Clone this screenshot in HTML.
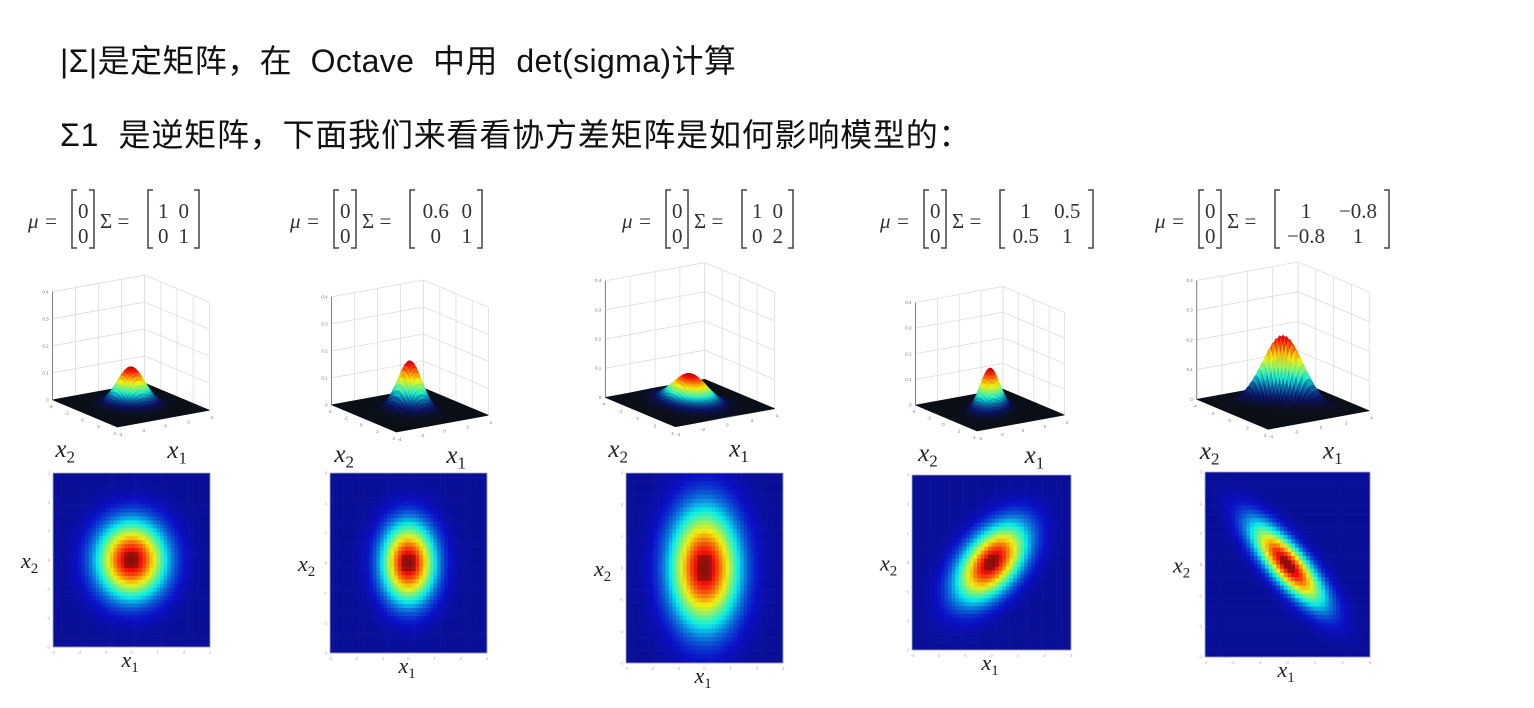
<!DOCTYPE html>
<html><head><meta charset="utf-8">
<style>
html,body{margin:0;padding:0;background:#fff;width:1534px;height:708px;overflow:hidden}
.t{position:absolute;left:60px;font-family:"Liberation Sans","Noto Sans CJK SC",sans-serif;font-size:32px;color:#111;white-space:pre}
svg{position:absolute;left:0;top:0}
</style></head>
<body>
<div class="t" style="top:36px;letter-spacing:0.4px">|Σ|是定矩阵，在  Octave  中用  det(sigma)计算</div>
<div class="t" style="top:110px;letter-spacing:0.8px">Σ1  是逆矩阵，下面我们来看看协方差矩阵是如何影响模型的：</div>
<svg id="fig" width="1534" height="708"></svg>
<script>
// covariance data per panel
const sigma11 = [1, 0.6, 1, 1, 1];
const sigma12 = [0, 0, 0, 0.5, -0.8];
const sigma22 = [1, 1, 2, 1, 1];
const matrixText = [["1","0","0","1"],["0.6","0","0","1"],["1","0","0","2"],["1","0.5","0.5","1"],["1","−0.8","−0.8","1"]];
const zTicks = ["0","0.1","0.2","0.3","0.4"];
const floorTicks = ["-4","-2","0","2","4"];

const NS="http://www.w3.org/2000/svg";
const svg=document.getElementById('fig');
function mk(tag,attrs,parent){const e=document.createElementNS(NS,tag);for(const k in attrs)e.setAttribute(k,attrs[k]);(parent||svg).appendChild(e);return e;}
function clamp(v){return Math.max(0,Math.min(1,v));}
function jet(t,sh){sh=sh===undefined?1:sh;const r=clamp(1.5-Math.abs(4*t-3)),g=clamp(1.5-Math.abs(4*t-2)),b=clamp(1.5-Math.abs(4*t-1));return `rgb(${Math.round(r*235*sh+10)},${Math.round(g*225*sh+15)},${Math.round(b*220*sh+10)})`;}
function dens(i,x,y){const a=sigma11[i],b=sigma12[i],d=sigma22[i];const det=a*d-b*b;const q=(d*x*x-2*b*x*y+a*y*y)/det;return Math.exp(-q/2)/(2*Math.PI*Math.sqrt(det));}
function peak(i){const det=sigma11[i]*sigma22[i]-sigma12[i]*sigma12[i];return 1/(2*Math.PI*Math.sqrt(det));}

// layout (positions, not data)
const formX=[28,290,622,880,1155];
const cen=[[131,405],[410,410],[690,403],[990,410],[1283,405]];
const scl=[1,1,1.08,0.95,1.1];
const hm=[[53,473,157,174],[330,473,157,180],[626,473,157,190],[912,475,159,175],[1205,472,165,185]];
const EX=[11.5,-2.1],EY=[-8.1,-3.4],ZS=240;

function label(x,y,sub,size,parent,name){
  const t=mk('text',{x:x,y:y,'font-family':'Liberation Serif,serif','font-style':'italic','font-size':size,fill:'#222'},parent);
  
  
  t.textContent='x';
  const s=mk('tspan',{'font-size':size*0.68,dy:size*0.22,'font-style':'normal'},t);s.textContent=sub;
}
function bracket(x1,x2,y1,y2,g){
  mk('path',{d:`M${x1+5},${y1}H${x1}V${y2}H${x1+5}M${x2-5},${y1}H${x2}V${y2}H${x2-5}`,stroke:'#444','stroke-width':1.5,fill:'none'},g);
}

for(let i=0;i<5;i++){
  const g=mk('g',{});
  
  
  const fg=mk('g',{'font-family':'Liberation Serif,serif','font-size':21,fill:'#333'},g);
  
  
  const fx=formX[i],fy=228;
  let t=mk('text',{x:fx,y:fy,'font-style':'italic'},fg);t.textContent='μ =';
  bracket(fx+44,fx+66,190,248,fg);
  t=mk('text',{x:fx+50,y:fy-10},fg);t.textContent='0';
  t=mk('text',{x:fx+50,y:fy+15},fg);t.textContent='0';
  t=mk('text',{x:fx+72,y:fy},fg);t.textContent='Σ =';
  const m=matrixText[i];
  const w0=Math.max(m[0].length,m[2].length)*10.5+10, w1=Math.max(m[1].length,m[3].length)*10.5+10;
  const mx=fx+120, mw=w0+w1+10;
  bracket(mx,mx+mw,190,248,fg);
  [[0,mx+5+w0/2,fy-10],[1,mx+5+w0+w1/2,fy-10],[2,mx+5+w0/2,fy+15],[3,mx+5+w0+w1/2,fy+15]].forEach(([k,x,y])=>{
    const e=mk('text',{x:x,y:y,'text-anchor':'middle'},fg);e.textContent=m[k];});

  const s=scl[i],[cx,cy]=cen[i];
  const P=(a,b,z)=>[cx+s*(a*EX[0]+b*EY[0]), cy+s*(a*EX[1]+b*EY[1])-z*ZS*s];
  const pg=mk('g',{},g);
  
  
  const zTop=0.45;
  for(let k=0;k<5;k++){
    const v=-4+2*k;
    let a=P(v,4,0),b=P(v,4,zTop);mk('line',{x1:a[0],y1:a[1],x2:b[0],y2:b[1],stroke:'#ddd','stroke-width':0.8},pg);
    a=P(4,v,0);b=P(4,v,zTop);mk('line',{x1:a[0],y1:a[1],x2:b[0],y2:b[1],stroke:'#ddd','stroke-width':0.8},pg);
    const z=zTop*k/4;
    a=P(-4,4,z);b=P(4,4,z);let c=P(4,-4,z);
    mk('polyline',{points:`${a} ${b} ${c}`,fill:'none',stroke:'#ddd','stroke-width':0.8},pg);
    a=P(-4,v,0);b=P(4,v,0);mk('line',{x1:a[0],y1:a[1],x2:b[0],y2:b[1],stroke:'#e4e4e4','stroke-width':0.7},pg);
    a=P(v,-4,0);b=P(v,4,0);mk('line',{x1:a[0],y1:a[1],x2:b[0],y2:b[1],stroke:'#e4e4e4','stroke-width':0.7},pg);
    const zl=P(-4,4,z);
    const tt=mk('text',{x:zl[0]-4,y:zl[1]+1.5,'font-size':4.5,fill:'#777','text-anchor':'end','font-family':'Liberation Sans,sans-serif'},pg);tt.textContent=zTicks[k];
    const l1=P(v,-4,0);const t1=mk('text',{x:l1[0]+1,y:l1[1]+9,'font-size':4.5,fill:'#777','font-family':'Liberation Sans,sans-serif'},pg);t1.textContent=floorTicks[k];
    const l2=P(-4,v,0);const t2=mk('text',{x:l2[0]-4,y:l2[1]+8,'font-size':4.5,fill:'#777','font-family':'Liberation Sans,sans-serif'},pg);t2.textContent=floorTicks[4-k];
  }
  let a=P(-4,4,0),b=P(-4,4,zTop);mk('line',{x1:a[0],y1:a[1],x2:b[0],y2:b[1],stroke:'#666','stroke-width':0.8},pg);
  a=P(-4,4,0);b=P(-4,-4,0);let c=P(4,-4,0);
  mk('polyline',{points:`${a} ${b} ${c}`,fill:'none',stroke:'#666','stroke-width':0.8},pg);
  const N=48,pk=peak(i),quads=[];
  for(let u=0;u<N;u++)for(let v=0;v<N;v++){
    const x0=-4+8*u/N,x1=-4+8*(u+1)/N,y0=-4+8*v/N,y1=-4+8*(v+1)/N;
    quads.push([x0,x1,y0,y1]);
  }
  quads.sort((q,r)=>(r[0]+r[2])-(q[0]+q[2]));
  const sg=mk('g',{},pg);
  for(const [x0,x1,y0,y1] of quads){
    const z00=dens(i,x0,y0),z10=dens(i,x1,y0),z11=dens(i,x1,y1),z01=dens(i,x0,y1);
    const tv=((z00+z10+z11+z01)/4)/pk;
    const sh=0.12+0.88*Math.min(1,tv*2.2);
    const col=jet(tv*0.95,sh);
    const p=[P(x0,y0,z00),P(x1,y0,z10),P(x1,y1,z11),P(x0,y1,z01)];
    mk('polygon',{points:p.map(q=>q.join(',')).join(' '),fill:col,stroke:col,'stroke-width':0.5},sg);
  }
  const fl=P(-4,-4,0),fr=P(4,-4,0);
  label(fl[0]-62*s,fl[1]+30,'2',25,g,'z3d-x2-label-'+(i+1));
  label(fr[0]-42*s,fr[1]+48,'1',25,g,'z3d-x1-label-'+(i+1));

  const [hx,hy,hw,hh]=hm[i];
  const hg=mk('g',{},g);
  
  
  const M=44,cw=hw/M,ch=hh/M;
  for(let r=0;r<M;r++)for(let q=0;q<M;q++){
    const x=-3.4+6.8*(q+0.5)/M,y=3.4-6.8*(r+0.5)/M;
    const tv=dens(i,x,y)/pk;
    mk('rect',{x:(hx+q*cw).toFixed(2),y:(hy+r*ch).toFixed(2),width:(cw+0.3).toFixed(2),height:(ch+0.3).toFixed(2),fill:jet(0.07+tv*0.88,tv>0.93?0.75:(tv<0.3?0.82+tv*0.6:1))},hg);
  }
  mk('rect',{x:hx,y:hy,width:hw,height:hh,fill:'none',stroke:'#aab','stroke-width':0.8},hg);
  for(let k=0;k<7;k++){
    const tx=hx+hw*k/6;const t1=mk('text',{x:tx,y:hy+hh+7,'font-size':4.5,fill:'#999','text-anchor':'middle'},hg);t1.textContent=String(k-3);
    const ty=hy+hh*k/6;const t2=mk('text',{x:hx-3,y:ty+1.5,'font-size':4.5,fill:'#999','text-anchor':'end'},hg);t2.textContent=String(3-k);
  }
  label(hx+hw/2-10,hy+hh+20,'1',22,g,'heatmap-x1-label-'+(i+1));
  label(hx-32,hy+hh/2+8,'2',22,g,'heatmap-x2-label-'+(i+1));
}
</script>
</body></html>
